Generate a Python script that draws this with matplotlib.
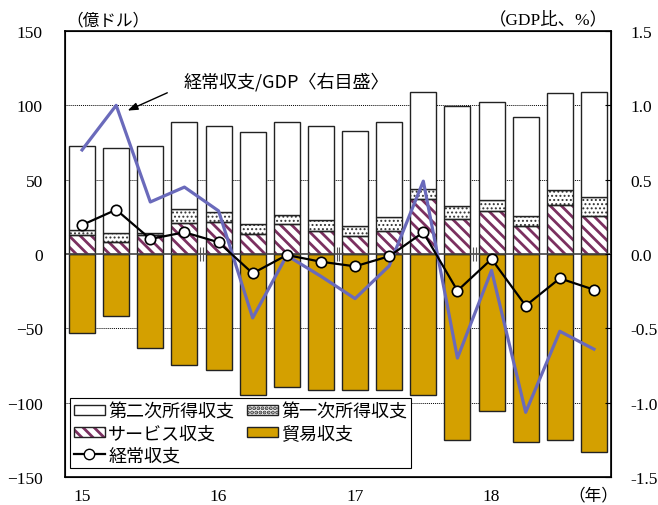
import numpy as np
import matplotlib
matplotlib.use('Agg')
import matplotlib.pyplot as plt
from matplotlib.patches import Patch
from matplotlib.lines import Line2D

plt.rcParams['font.family'] = ['Liberation Serif', 'Noto Sans CJK JP']
JP = ['Noto Sans CJK JP']

#------------------------------------------------------------
# data (quarterly, 2015Q1 - 2018Q4), 100 million USD
#------------------------------------------------------------
quarters = np.arange(16)
year_pos = [0, 4, 8, 12]
year_labels = ['15', '16', '17', '18']

service = [12.8, 7.9, 12.8, 20.9, 21.3, 13.2, 20.4, 15.3,
           11.9, 15.3, 36.8, 23.6, 28.9, 18.6, 33.0, 25.4]
primary = [3.1, 6.0, 1.3, 9.4, 6.7, 7.2, 5.8, 7.4,
           7.1, 9.4, 7.2, 8.5, 7.6, 6.8, 9.9, 13.2]
secondary = [56.6, 57.6, 58.8, 58.7, 58.3, 61.5, 62.8, 63.6,
             64.0, 64.3, 64.8, 67.7, 65.6, 66.6, 65.4, 70.5]
trade = [-53.2, -41.7, -63.0, -74.5, -78.1, -94.9, -89.5, -91.5,
         -91.3, -91.3, -94.7, -125.0, -105.9, -126.7, -125.0, -133.5]
current = [19.5, 29.8, 10.1, 14.6, 7.9, -13.0, -0.7, -5.2,
           -8.3, -1.5, 14.6, -24.7, -3.4, -34.8, -16.4, -24.0]
# current account / GDP (%), right axis
ratio = [0.70, 1.00, 0.35, 0.45, 0.29, -0.43, -0.01, -0.15,
         -0.30, -0.08, 0.49, -0.70, -0.11, -1.065, -0.52, -0.64]

gold = '#D4A000'
maroon = '#7B3060'
blue = '#6A6ABB'
edge = '#222222'
w = 0.76
STRIPE_LW = 2.0
DOT_LW = 0.9

fig = plt.figure(figsize=(6.58, 5.06), dpi=100)
ax = fig.add_axes([65/658, 28/506, 546/658, 446/506])

service = np.array(service)
primary = np.array(primary)
secondary = np.array(secondary)

# bars
ax.bar(quarters, trade, w, color=gold, edgecolor=edge, linewidth=1, zorder=2)
plt.rcParams['hatch.linewidth'] = STRIPE_LW
ax.bar(quarters, service, w, color='white', edgecolor=maroon, hatch='\\\\\\', linewidth=0, zorder=2)
ax.bar(quarters, service, w, fill=False, edgecolor=edge, linewidth=1, zorder=3)
plt.rcParams['hatch.linewidth'] = DOT_LW
ax.bar(quarters, primary, w, bottom=service, color='white', edgecolor='#333333',
       hatch='....', linewidth=0, zorder=2)
ax.bar(quarters, primary, w, bottom=service, fill=False, edgecolor=edge, linewidth=1, zorder=3)
ax.bar(quarters, secondary, w, bottom=service + primary, color='white',
       edgecolor=edge, linewidth=1, zorder=3)

ax.axhline(0, color='#444444', linewidth=1.2, zorder=4)
for yy in [-100, -50, 50, 100]:
    ax.axhline(yy, color='black', linewidth=0.7, linestyle=(0, (1, 1)), zorder=1)

# year separators at zero line
for xs in [3.5, 7.5, 11.5]:
    ax.vlines([xs - 0.04, xs + 0.04], -4.5, 4.5, color='#555555', linewidth=0.8, zorder=5)

ax.set_xlim(-0.5, 15.5)
ax.set_ylim(-150, 150)
ax.set_yticks([-150, -100, -50, 0, 50, 100, 150])
ax.set_xticks(year_pos)
ax.set_xticklabels(year_labels)
ax.tick_params(axis='y', length=0, pad=16, labelsize=12.5)
ax.tick_params(axis='x', length=0, pad=8, labelsize=12.5)
for s in ax.spines.values():
    s.set_color('black')
    s.set_linewidth(1.2)

# right axis
ax2 = ax.twinx()
ax2.plot(quarters, ratio, color=blue, linewidth=2.3, zorder=3)
ax2.plot(quarters, current, color='black', linewidth=1.6, marker='o', markersize=7.5,
         markerfacecolor='white', markeredgecolor='black', markeredgewidth=1.2,
         transform=ax.transData, zorder=4)
ax2.set_ylim(-1.5, 1.5)
ax2.set_yticks([-1.5, -1.0, -0.5, 0.0, 0.5, 1.0, 1.5])
ax2.set_yticklabels(['-1.5', '-1.0', '-0.5', '0.0', '0.5', '1.0', '1.5'])
ax2.tick_params(axis='y', direction='in', length=4, pad=14, labelsize=12.5)
ax2.set_xlim(-0.5, 15.5)

# annotation
ax2.annotate('', xy=(1.26, 0.957), xytext=(0.192, 0.864), textcoords='axes fraction',
             arrowprops=dict(arrowstyle='-|>,head_length=0.6,head_width=0.22',
                             color='black', linewidth=1.0), zorder=6)
ax2.text(0.218, 0.888, '経常収支/GDP〈右目盛〉', transform=ax2.transAxes, family=JP,
         fontsize=13, ha='left', va='center', zorder=6)

# legend
h_sec = Patch(facecolor='white', edgecolor=edge, linewidth=1)
plt.rcParams['hatch.linewidth'] = DOT_LW
h_prim = (Patch(facecolor='white', edgecolor='#333333', hatch='....', linewidth=0),
          Patch(fill=False, edgecolor=edge, linewidth=1))
plt.rcParams['hatch.linewidth'] = STRIPE_LW
h_svc = (Patch(facecolor='white', edgecolor=maroon, hatch='\\\\\\', linewidth=0),
         Patch(fill=False, edgecolor=edge, linewidth=1))
h_trade = Patch(facecolor=gold, edgecolor=edge, linewidth=1)
h_ca = Line2D([], [], color='black', linewidth=1.6, marker='o', markersize=7.5,
              markerfacecolor='white', markeredgecolor='black')
leg = ax2.legend([h_sec, h_svc, h_ca, h_prim, h_trade],
                 ['第二次所得収支', 'サービス収支', '経常収支', '第一次所得収支', '貿易収支'],
                 ncol=2, loc='lower left', bbox_to_anchor=(0.009, 0.02),
                 borderaxespad=0, prop={'family': JP, 'size': 13},
                 handlelength=1.7, handleheight=0.5, handletextpad=0.2,
                 columnspacing=0.7, labelspacing=0.22, borderpad=0.22,
                 fancybox=False, framealpha=1, edgecolor='black')
leg.get_frame().set_linewidth(0.8)
leg.set_zorder(10)

# unit labels
fig.text(66/658, 1 - 21/506, '（億ドル）', family=JP, fontsize=12, ha='left', va='center')
fig.text(608/658, 1 - 20/506, '（GDP比、%）', family=['Liberation Serif', 'Noto Sans CJK JP'],
         fontsize=12.5, ha='right', va='center')
fig.text(593/658, 1 - 496/506, '（年）', family=JP, fontsize=12, ha='center', va='center')

fig.savefig('out.png', dpi=100)
